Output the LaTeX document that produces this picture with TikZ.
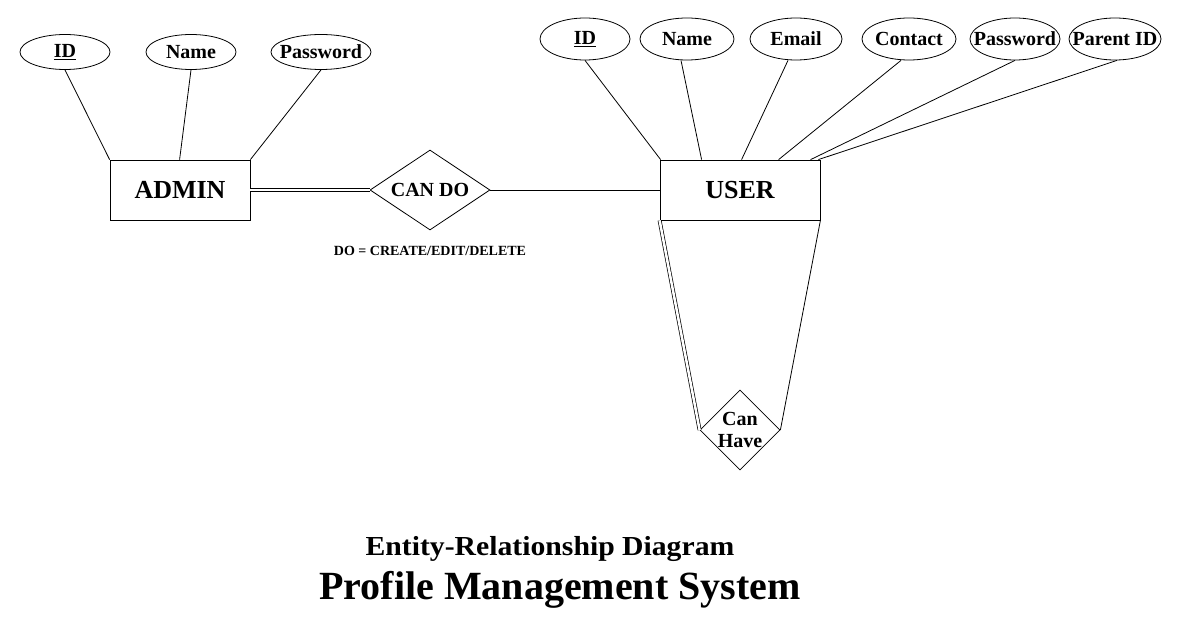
\documentclass[tikz,border=0pt]{standalone}
\usepackage{fontspec}
\setmainfont{Liberation Serif}
\newfontfamily\widefont[FakeStretch=1.08]{Liberation Serif}
\usetikzlibrary{shapes.geometric}
\newcommand{\zw}[1]{\makebox[0pt]{#1}}
\begin{document}
\begin{tikzpicture}[x=1pt,y=-1pt, line width=0.8pt,
 every node/.style={font=\bfseries},
 attr/.style={draw, ellipse, inner sep=0pt, font=\bfseries\fontsize{20}{22}\selectfont},
 entity/.style={draw, rectangle, minimum width=160pt, minimum height=60pt, inner sep=0pt, font=\bfseries\fontsize{26}{28}\selectfont},
 rel/.style={draw, diamond, inner sep=0pt},
 dbl/.style={double, double distance=2.5pt, line width=0.7pt},
 lbl/.style={inner sep=0pt, anchor=base}]
\useasboundingbox[fill=white] (0,0) rectangle (1181,631);
% ADMIN side
\node[entity, minimum width=140pt] (admin) at (180,190) {ADMIN};
\node[attr, minimum width=90pt, minimum height=35pt] (aid) at (65,52) {\zw{\underline{ID}}};
\node[attr, minimum width=90pt, minimum height=35pt] (aname) at (191,52) {\zw{Name}};
\node[attr, minimum width=100pt, minimum height=35pt] (apass) at (321,52) {\zw{Password}};
\draw (aid.south) -- (admin.north west);
\draw (aname.south) -- ([xshift=70pt]admin.north west);
\draw (apass.south) -- (admin.north east);
% CAN DO
\node[rel, minimum width=120pt, minimum height=80pt, font=\bfseries\fontsize{20}{22}\selectfont] (cando) at (430,190) {\zw{CAN DO}};
\node[lbl, font=\bfseries\fontsize{14}{16}\selectfont] (dolbl) at (430,256) {DO = CREATE/EDIT/DELETE};
% USER side
\node[entity] (user) at (740,190) {USER};
\draw[dbl] (admin.east) -- (cando.west);
\draw (cando.east) -- (user.west);
\node[attr, minimum width=90pt, minimum height=42pt] (uid) at (585,39) {\zw{\underline{ID}}};
\node[attr, minimum width=94pt, minimum height=42pt] (uname) at (687,39) {\zw{Name}};
\node[attr, minimum width=92pt, minimum height=42pt] (uemail) at (796,39) {\zw{Email}};
\node[attr, minimum width=94pt, minimum height=42pt] (ucontact) at (909,39) {\zw{Contact}};
\node[attr, minimum width=90pt, minimum height=42pt] (upass) at (1015,39) {\zw{Password}};
\node[attr, minimum width=92pt, minimum height=42pt] (upid) at (1115,39) {\zw{Parent ID}};
\draw (uid.south) -- ([xshift=1pt]user.north west);
\draw ([xshift=-6pt]uname.south) -- ([xshift=42pt]user.north west);
\draw ([xshift=-8pt]uemail.south) -- ([xshift=82pt]user.north west);
\draw ([xshift=-8pt]ucontact.south) -- ([xshift=119pt]user.north west);
\draw (upass.south) -- ([xshift=151pt]user.north west);
\draw ([xshift=2pt]upid.south) -- ([xshift=-2pt]user.north east);
% Can Have
\node[rel, minimum width=80pt, minimum height=80pt, font=\bfseries\fontsize{20}{22}\selectfont, align=center] (canhave) at (740,430) {\zw{Can}\\\zw{Have}};
\draw[dbl] (user.south west) -- (canhave.west);
\draw (user.south east) -- (canhave.east);
% Title
\node[lbl, font=\widefont\bfseries\fontsize{27.5}{30}\selectfont] (title1) at (550,555) {Entity-Relationship Diagram};
\node[lbl, font=\bfseries\fontsize{40}{44}\selectfont] (title2) at (560,599) {Profile Management System};
\end{tikzpicture}
\end{document}
